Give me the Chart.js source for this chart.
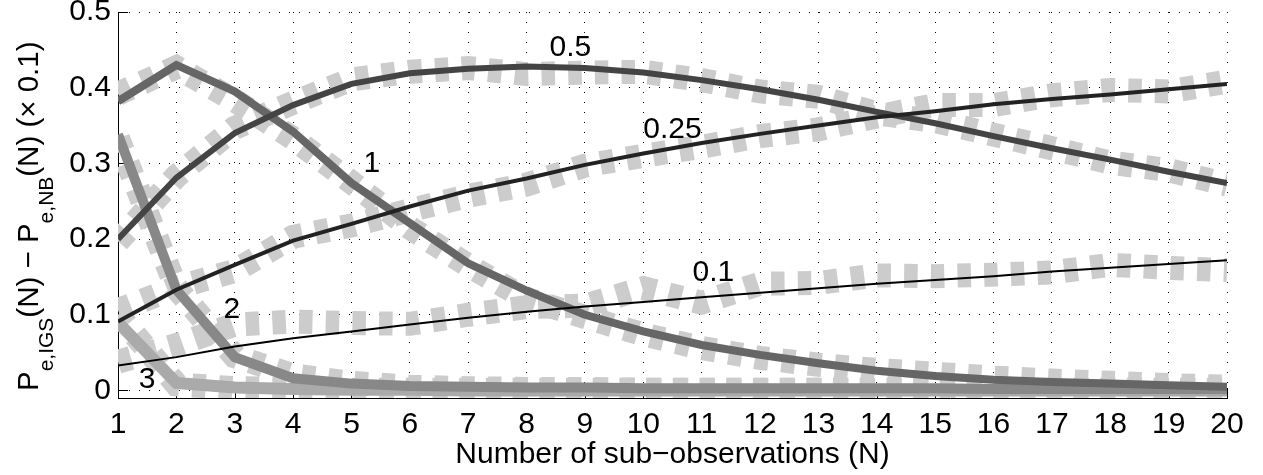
<!DOCTYPE html>
<html>
<head>
<meta charset="utf-8">
<script src="https://cdn.jsdelivr.net/npm/chart.js@4.4.0/dist/chart.umd.min.js"></script>
<style>
    html, body { margin: 0; padding: 0; background: #fff; }
    #wrap { width: 1263px; height: 475px; }
</style>
</head>
<body>
<div id="wrap"><canvas id="peChart" width="1263" height="475"></canvas></div>
<script>
// number of sub-observations
const nValues = [1, 2, 3, 4, 5, 6, 7, 8, 9, 10, 11, 12, 13, 14, 15, 16, 17, 18, 19, 20];

// curve parameter names (as written next to the curves)
const curveNames = ['0.1', '0.25', '0.5', '1', '2', '3'];

// solid curves (analysis)
const theory01  = [0.033, 0.044, 0.058, 0.069, 0.078, 0.087, 0.096, 0.104, 0.111, 0.117, 0.123, 0.129, 0.135, 0.141, 0.146, 0.151, 0.157, 0.162, 0.167, 0.172];
const theory025 = [0.091, 0.133, 0.166, 0.198, 0.220, 0.243, 0.264, 0.280, 0.298, 0.313, 0.327, 0.339, 0.350, 0.361, 0.369, 0.378, 0.385, 0.391, 0.398, 0.405];
const theory05  = [0.200, 0.281, 0.340, 0.377, 0.405, 0.419, 0.425, 0.428, 0.426, 0.420, 0.410, 0.398, 0.384, 0.368, 0.353, 0.336, 0.320, 0.305, 0.289, 0.274];
const theory1   = [0.382, 0.430, 0.395, 0.342, 0.274, 0.221, 0.168, 0.132, 0.100, 0.078, 0.060, 0.047, 0.036, 0.026, 0.019, 0.014, 0.011, 0.009, 0.007, 0.005];
const theory2   = [0.338, 0.133, 0.044, 0.016, 0.009, 0.006, 0.005, 0.004, 0.004, 0.003, 0.003, 0.003, 0.003, 0.003, 0.003, 0.002, 0.002, 0.002, 0.002, 0.002];
const theory3   = [0.090, 0.010, 0.004, 0.002, 0.001, 0.001, 0.000, 0.000, 0.000, 0.000, 0.000, 0.000, 0.000, 0.000, 0.000, 0.000, 0.000, 0.000, 0.000, 0.000];

// dashed curves (simulation)
const sim01  = [0.038, 0.060, 0.087, 0.091, 0.089, 0.088, 0.100, 0.110, 0.112, 0.135, 0.116, 0.141, 0.142, 0.152, 0.151, 0.153, 0.156, 0.166, 0.162, 0.159];
const sim025 = [0.106, 0.136, 0.158, 0.203, 0.218, 0.238, 0.257, 0.272, 0.297, 0.310, 0.322, 0.336, 0.345, 0.362, 0.377, 0.377, 0.390, 0.397, 0.395, 0.408];
const sim05  = [0.197, 0.283, 0.347, 0.380, 0.411, 0.421, 0.426, 0.418, 0.420, 0.421, 0.410, 0.395, 0.388, 0.366, 0.356, 0.338, 0.320, 0.301, 0.291, 0.272];
const sim1   = [0.392, 0.427, 0.383, 0.333, 0.275, 0.215, 0.165, 0.121, 0.097, 0.074, 0.056, 0.043, 0.034, 0.027, 0.022, 0.017, 0.013, 0.010, 0.007, 0.005];
const sim2   = [0.333, 0.135, 0.045, 0.020, 0.010, 0.005, 0.003, 0.002, 0.002, 0.001, 0.001, 0.001, 0.001, 0.001, 0.001, 0.001, 0.001, 0.001, 0.001, 0.001];
const sim3   = [0.100, 0.008, 0.003, 0.002, 0.001, 0.001, 0.001, 0.001, 0.001, 0.001, 0.001, 0.001, 0.001, 0.001, 0.001, 0.001, 0.001, 0.001, 0.001, 0.001];

// where the curve names sit (N, value)
const labelN = [11.2, 10.5, 8.75, 5.35, 2.95, 1.5];
const labelP = [0.156, 0.344, 0.453, 0.300, 0.107, 0.014];

const yTickValues = [0, 0.1, 0.2, 0.3, 0.4, 0.5];

// styles
const solidColors = ['#000000', '#222222', '#444444', '#666666', '#888888', '#aaaaaa'];
const solidWidths = [2, 4, 6, 8, 10, 12];
const simColor = '#cccccc';
const FONT = '"Liberation Sans", Arial, Helvetica, sans-serif';

const theory = [theory01, theory025, theory05, theory1, theory2, theory3];
const sims = [sim01, sim025, sim05, sim1, sim2, sim3];

const toPoints = vals => nValues.map((n, i) => ({ x: n, y: vals[i] }));

const datasets = [];
theory.forEach((vals, i) => {
    datasets.push({
        label: 'analysis ' + curveNames[i],
        data: toPoints(vals),
        borderColor: solidColors[i],
        borderWidth: solidWidths[i],
        pointRadius: 0,
        tension: 0,
        clip: 0,
        order: i
    });
});
sims.forEach((vals, i) => {
    datasets.push({
        label: 'simulation ' + curveNames[i],
        data: toPoints(vals),
        borderColor: simColor,
        borderWidth: 24,
        borderDash: [13.5, 13.2],
        borderCapStyle: 'butt',
        pointRadius: 0,
        tension: 0,
        clip: 0,
        order: 10 + i
    });
});

// MATLAB style inward ticks
const tickMarks = {
    id: 'tickMarks',
    beforeDatasetsDraw(chart) {
        const { ctx, chartArea, scales: { x, y } } = chart;
        ctx.save();
        ctx.strokeStyle = '#000';
        ctx.lineWidth = 1;
        ctx.beginPath();
        yTickValues.forEach(v => {
            const py = Math.round(y.getPixelForValue(v)) + 0.5;
            ctx.moveTo(chartArea.left, py);
            ctx.lineTo(chartArea.left + 10, py);
        });
        nValues.forEach(n => {
            const px = Math.round(x.getPixelForValue(n)) + 0.5;
            ctx.moveTo(px, chartArea.bottom);
            ctx.lineTo(px, chartArea.bottom - 10);
        });
        ctx.stroke();
        ctx.restore();
    }
};

// curve names + y axis title with subscripts
const annotate = {
    id: 'annotate',
    afterDatasetsDraw(chart) {
        const { ctx, scales: { x, y } } = chart;
        ctx.save();
        ctx.font = '30px ' + FONT;
        ctx.fillStyle = '#000';
        ctx.textAlign = 'center';
        ctx.textBaseline = 'middle';
        curveNames.forEach((name, i) => {
            ctx.fillText(name, x.getPixelForValue(labelN[i]), y.getPixelForValue(labelP[i]));
        });
        ctx.restore();
    },
    afterDraw(chart) {
        const { ctx } = chart;
        const parts = [
            ['P', false],
            ['e,IGS', true],
            ['(N) \u2212 P', false],
            ['e,NB', true],
            ['(N) (\u00d7 0.1)', false]
        ];
        const mainFont = '29.5px ' + FONT;
        const subFont = '21px ' + FONT;
        ctx.save();
        // text starts at the bottom and reads upwards
        ctx.translate(38, 391);
        ctx.rotate(-Math.PI / 2);
        ctx.fillStyle = '#000';
        ctx.textAlign = 'left';
        ctx.textBaseline = 'alphabetic';
        let pos = 0;
        parts.forEach(p => {
            ctx.font = p[1] ? subFont : mainFont;
            ctx.fillText(p[0], pos, p[1] ? 15 : 0);
            pos += ctx.measureText(p[0]).width;
        });
        ctx.restore();
    }
};

const ctx = document.getElementById('peChart').getContext('2d');
const peChart = new Chart(ctx, {
    type: 'line',
    data: { datasets: datasets },
    options: {
        responsive: false,
        animation: false,
        devicePixelRatio: 1,
        layout: { padding: { left: 0, right: 36, top: 12, bottom: 0 } },
        plugins: {
            legend: { display: false },
            tooltip: { enabled: false }
        },
        scales: {
            x: {
                type: 'linear',
                min: 1,
                max: 20,
                afterBuildTicks: scale => {
                    scale.ticks = nValues.map(v => ({ value: v }));
                },
                afterFit: scale => {
                    scale.height = 77;
                    scale.paddingLeft = 0;
                    scale.paddingRight = 0;
                },
                ticks: {
                    color: '#000',
                    font: { family: FONT, size: 30, lineHeight: 1 },
                    padding: 12,
                    maxRotation: 0,
                    autoSkip: false
                },
                grid: { color: '#000', lineWidth: 1, drawTicks: false },
                border: { display: true, color: '#000', width: 1, dash: [1, 9] },
                title: {
                    display: true,
                    text: 'Number of sub\u2212observations (N)',
                    color: '#000',
                    font: { family: FONT, size: 30, lineHeight: 1 },
                    padding: { top: 0, bottom: 5 }
                }
            },
            y: {
                type: 'linear',
                min: -0.01,
                max: 0.5,
                afterBuildTicks: scale => {
                    scale.ticks = yTickValues.map(v => ({ value: v }));
                },
                afterFit: scale => {
                    scale.width = 118;
                    scale.paddingTop = 0;
                    scale.paddingBottom = 0;
                },
                ticks: {
                    color: '#000',
                    font: { family: FONT, size: 30, lineHeight: 1 },
                    padding: 7,
                    callback: v => (v === 0 ? '0' : v.toFixed(1))
                },
                grid: { color: '#000', lineWidth: 1, drawTicks: false },
                border: { display: true, color: '#000', width: 1, dash: [1, 9] }
            }
        }
    },
    plugins: [tickMarks, annotate]
});
</script>
</body>
</html>
